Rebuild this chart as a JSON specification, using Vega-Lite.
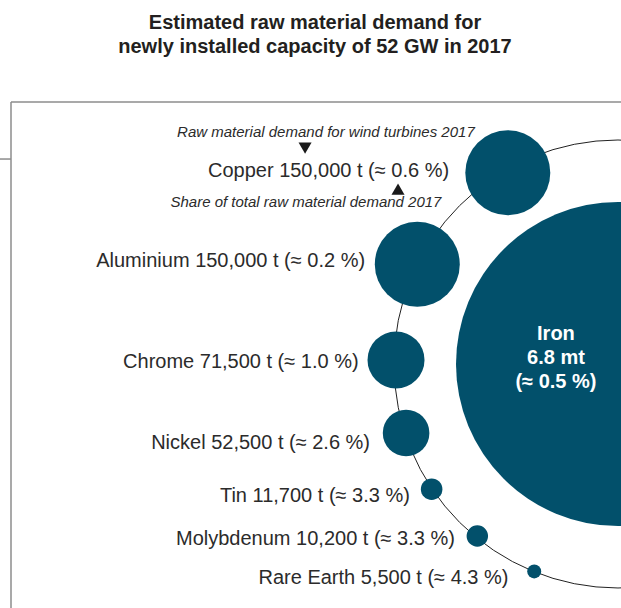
{
  "$schema": "https://vega.github.io/schema/vega-lite/v6.json",
  "width": 610,
  "height": 506,
  "autosize": {"type": "none"},
  "padding": {"left": 11, "top": 102, "right": 0, "bottom": 0},
  "background": "white",
  "view": {"stroke": null},
  "config": {"font": "Liberation Sans"},
  "title": {
    "text": ["Estimated raw material demand for", "newly installed capacity of 52 GW in 2017"],
    "font": "Liberation Sans",
    "fontSize": 20,
    "fontWeight": "bold",
    "color": "#231f20",
    "anchor": "middle",
    "frame": "group",
    "lineHeight": 24,
    "offset": 44,
    "dx": -1
  },
  "datasets": {
    "materials": [
      {"material": "Iron", "tonnes": 6800000, "label": "Iron\n6.8 mt\n(≈ 0.5 %)", "x": 0, "y": 0, "lx": -0.277, "ly": 0.107},
      {"material": "Copper", "tonnes": 150000, "label": "Copper 150,000 t (≈ 0.6 %)", "x": -0.492, "y": 0.854, "lx": -0.754, "ly": 0.837},
      {"material": "Aluminium", "tonnes": 150000, "label": "Aluminium 150,000 t (≈ 0.2 %)", "x": -0.896, "y": 0.445, "lx": -1.129, "ly": 0.435},
      {"material": "Chrome", "tonnes": 71500, "label": "Chrome 71,500 t (≈ 1.0 %)", "x": -0.991, "y": 0.018, "lx": -1.158, "ly": -0.018},
      {"material": "Nickel", "tonnes": 52500, "label": "Nickel 52,500 t (≈ 2.6 %)", "x": -0.946, "y": -0.308, "lx": -1.107, "ly": -0.379},
      {"material": "Tin", "tonnes": 11700, "label": "Tin 11,700 t (≈ 3.3 %)", "x": -0.832, "y": -0.559, "lx": -0.929, "ly": -0.614},
      {"material": "Molybdenum", "tonnes": 10200, "label": "Molybdenum 10,200 t (≈ 3.3 %)", "x": -0.628, "y": -0.768, "lx": -0.728, "ly": -0.808},
      {"material": "Rare Earth", "tonnes": 5500, "label": "Rare Earth 5,500 t (≈ 4.3 %)", "x": -0.374, "y": -0.926, "lx": -0.489, "ly": -0.98}
    ],
    "notes": [
      {"note": "Raw material demand for wind turbines 2017", "kind": "demand", "tx": -1.304, "ty": 1.015, "px": -1.397, "py": 0.964},
      {"note": "Share of total raw material demand 2017", "kind": "share", "tx": -1.393, "ty": 0.702, "px": -0.982, "py": 0.781}
    ]
  },
  "layer": [
    {
      "data": {"values": [{}]},
      "mark": {"type": "rule", "stroke": "#8c8c8c", "strokeWidth": 1.5},
      "encoding": {
        "x": {"datum": -2.7098, "type": "quantitative", "scale": {"domain": [-2.7098, 0.0134], "nice": false, "zero": false}, "axis": null},
        "x2": {"datum": 0.0134},
        "y": {"datum": 1.1696, "type": "quantitative", "scale": {"domain": [-1.0893, 1.1696], "nice": false, "zero": false}, "axis": null}
      }
    },
    {
      "data": {"values": [{}]},
      "mark": {"type": "rule", "stroke": "#8c8c8c", "strokeWidth": 1.5},
      "encoding": {
        "x": {"datum": -2.7098, "type": "quantitative"},
        "y": {"datum": 1.1696, "type": "quantitative"},
        "y2": {"datum": -1.0893}
      }
    },
    {
      "data": {"values": [{}]},
      "mark": {"type": "rule", "stroke": "#8c8c8c", "strokeWidth": 1.5},
      "encoding": {
        "x": {"datum": -2.7589, "type": "quantitative"},
        "x2": {"datum": -2.7098},
        "y": {"datum": 0.915, "type": "quantitative"}
      }
    },
    {
      "data": {"name": "materials"},
      "transform": [{"filter": "datum.material === 'Iron'"}],
      "mark": {"type": "point", "filled": false, "stroke": "#222222", "strokeWidth": 1, "opacity": 1, "size": 200704},
      "encoding": {
        "x": {"field": "x", "type": "quantitative"},
        "y": {"field": "y", "type": "quantitative"}
      }
    },
    {
      "data": {"name": "materials"},
      "mark": {"type": "circle", "color": "#02506b", "opacity": 1, "strokeWidth": 0},
      "encoding": {
        "x": {"field": "x", "type": "quantitative"},
        "y": {"field": "y", "type": "quantitative"},
        "size": {
          "field": "tonnes",
          "type": "quantitative",
          "scale": {"type": "linear", "zero": false, "domain": [5500, 10200, 11700, 52500, 71500, 150000, 6800000], "range": [196, 460, 464, 2172, 3249, 7225, 104976]},
          "legend": null
        }
      }
    },
    {
      "data": {"name": "materials"},
      "transform": [{"filter": "datum.material !== 'Iron'"}],
      "mark": {"type": "text", "align": "right", "baseline": "alphabetic", "font": "Liberation Sans", "fontSize": 20, "color": "#2b2b2b"},
      "encoding": {
        "x": {"field": "lx", "type": "quantitative"},
        "y": {"field": "ly", "type": "quantitative"},
        "text": {"field": "label", "type": "nominal"}
      }
    },
    {
      "data": {"name": "materials"},
      "transform": [{"filter": "datum.material === 'Iron'"}],
      "mark": {"type": "text", "align": "center", "baseline": "alphabetic", "font": "Liberation Sans", "fontSize": 20, "fontWeight": "bold", "color": "white", "lineBreak": "\n", "lineHeight": 24},
      "encoding": {
        "x": {"field": "lx", "type": "quantitative"},
        "y": {"field": "ly", "type": "quantitative"},
        "text": {"field": "label", "type": "nominal"}
      }
    },
    {
      "data": {"name": "notes"},
      "mark": {"type": "text", "align": "center", "baseline": "alphabetic", "font": "Liberation Sans", "fontSize": 15, "fontStyle": "italic", "color": "#2b2b2b"},
      "encoding": {
        "x": {"field": "tx", "type": "quantitative"},
        "y": {"field": "ty", "type": "quantitative"},
        "text": {"field": "note", "type": "nominal"}
      }
    },
    {
      "data": {"name": "notes"},
      "mark": {"type": "point", "filled": true, "color": "#1a1a1a", "opacity": 1, "size": 170},
      "encoding": {
        "x": {"field": "px", "type": "quantitative"},
        "y": {"field": "py", "type": "quantitative"},
        "shape": {"field": "kind", "type": "nominal", "scale": {"domain": ["demand", "share"], "range": ["triangle-down", "triangle-up"]}, "legend": null}
      }
    }
  ]
}
